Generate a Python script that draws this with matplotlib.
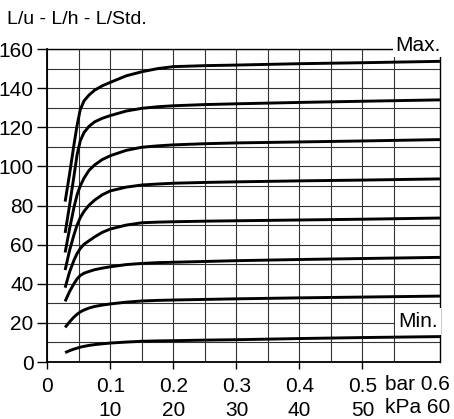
import matplotlib
matplotlib.use("Agg")
import matplotlib.pyplot as plt
import numpy as np

plt.rcParams['font.family'] = ['Liberation Sans', 'DejaVu Sans']

# druck (bar) und gelesene kurvenwerte (L/h)
druck = [0.028, 0.035, 0.042, 0.047, 0.052, 0.058, 0.066, 0.075, 0.087, 0.1,
         0.125, 0.15, 0.175, 0.2, 0.25, 0.3, 0.4, 0.5, 0.623]
k_max = [82, 96, 111, 121, 129, 133.5, 136.5, 139, 141.2, 143,
         146.3, 148.4, 150, 151, 151.5, 151.8, 152.5, 153, 153.7]
k_130 = [66, 80, 95, 106, 113, 117.3, 120.5, 122.8, 124.6, 126,
         128.3, 129.7, 130.5, 131, 131.6, 132, 132.7, 133.3, 134]
k_110 = [56, 68, 79, 85.5, 90, 94, 98, 100.8, 103.5, 105.5,
         108.2, 109.8, 110.5, 111, 111.6, 112, 112.5, 113, 113.7]
k_90 = [47, 57, 65, 70, 73.8, 77, 80.2, 82.8, 85.5, 87.5,
        89.4, 90.5, 91, 91.4, 91.8, 92.1, 92.6, 93, 93.6]
k_70 = [38, 46, 52, 55.5, 58, 60.2, 62, 64, 66.3, 68,
        70, 71.2, 71.5, 71.7, 72, 72.2, 72.6, 73, 73.6]
k_50 = [31, 36, 40, 42.5, 44.2, 45.4, 46.3, 47.2, 48, 48.7,
        49.8, 50.4, 50.8, 51, 51.4, 51.8, 52.4, 52.9, 53.5]
k_30 = [17.7, 20.5, 23, 24.4, 25.6, 26.6, 27.6, 28.4, 29.1, 29.7,
        30.6, 31.2, 31.5, 31.7, 32, 32.3, 32.8, 33.2, 33.7]
k_min = [4.8, 5.8, 6.6, 7.1, 7.6, 8.0, 8.5, 8.9, 9.3, 9.7,
         10.2, 10.6, 10.8, 10.9, 11.2, 11.4, 12, 12.5, 13]
kurven = [k_max, k_130, k_110, k_90, k_70, k_50, k_30, k_min]

bar_ticks = [0, 0.1, 0.2, 0.3, 0.4, 0.5]
bar_labels = ["0", "0.1", "0.2", "0.3", "0.4", "0.5"]
kpa_labels = ["", "10", "20", "30", "40", "50"]
y_ticks = [0, 20, 40, 60, 80, 100, 120, 140, 160]

fig = plt.figure(figsize=(4.54, 4.19), dpi=100)
ax = fig.add_axes([0.1046, 0.136, 0.8655, 0.747])

for k in kurven:
    ax.plot(druck, k, color="black", lw=2.1, solid_capstyle="butt", solid_joinstyle="round")

ax.set_xlim(0, 0.6238)
ax.set_ylim(0, 160)

ax.set_xticks(bar_ticks)
ax.set_xticklabels([b + "\n" + (p if p else " ") for b, p in zip(bar_labels, kpa_labels)])
for lbl in ax.get_xticklabels():
    lbl.set_linespacing(1.3)
ax.set_xticks(np.arange(0, 0.56, 0.05), minor=True)
ax.set_yticks(y_ticks)
ax.set_yticks(np.arange(0, 161, 10), minor=True)
ax.tick_params(axis="both", which="major", labelsize=15, length=5, width=1, color="black")
ax.tick_params(axis="y", which="major", length=7, pad=3)
ax.tick_params(axis="x", which="major", pad=6)
ax.tick_params(which="minor", length=0)
ax.grid(True, which="both", color="#333333", lw=0.8)
ax.set_axisbelow(True)
for s in ax.spines.values():
    s.set_linewidth(1.0)
ax.spines["left"].set_linewidth(1.3)
ax.spines["bottom"].set_linewidth(1.3)

ax.annotate("bar 0.6\nkPa 60", xy=(1, 0), xycoords="axes fraction",
            xytext=(7, -9), textcoords="offset points", ha="right", va="top",
            multialignment="right", fontsize=15, linespacing=1.3)

ax.text(0.588, 161.6, "Max.", ha="center", va="center", fontsize=15, clip_on=False,
        bbox=dict(facecolor="white", edgecolor="none", pad=1.5))
ax.text(0.588, 20.7, "Min.", ha="center", va="center", fontsize=15,
        bbox=dict(facecolor="white", edgecolor="none", pad=2.5))

fig.text(7 / 454, 1 - 20 / 419, "L/u - L/h - L/Std.", ha="left", va="center", fontsize=14)

fig.savefig("out.png", dpi=100)
